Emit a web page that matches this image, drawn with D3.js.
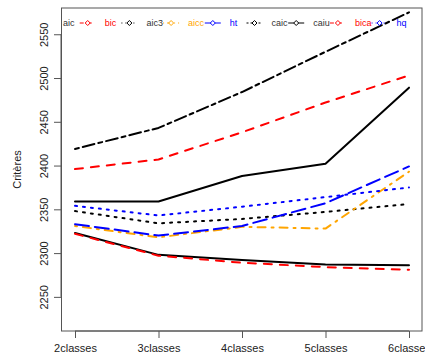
<!DOCTYPE html>
<html>
<head>
<meta charset="utf-8">
<script src="https://cdn.jsdelivr.net/npm/d3@7"></script>
<style>
body { margin: 0; background: white; }
svg { display: block; font-family: "Liberation Sans", Arial, sans-serif; }
</style>
</head>
<body>
<svg id="graphe" width="425" height="360"></svg>
<script>

//-------------------Données----------------------------------------
var classes = ["2classes", "3classes", "4classes", "5classes", "6classes"]
var yTicks = [2250, 2300, 2350, 2400, 2450, 2500, 2550]

var aic  = [2323, 2298, 2292, 2287, 2286]
var bic  = [2396, 2407, 2438, 2472, 2503]
var aic3 = [2348, 2334, 2339, 2347, 2356]
var aicc = [2331, 2318, 2330, 2328, 2393]
var ht   = [2333, 2320, 2331, 2357, 2399]
var caic = [2419, 2443, 2484, 2530, 2575]
var caiu = [2359, 2359, 2388, 2402, 2489]
var bica = [2322, 2297, 2289, 2284, 2281]
var hq   = [2354, 2343, 2353, 2364, 2375]

var noms = ["aic", "bic", "aic3", "aicc", "ht", "caic", "caiu", "bica", "hq"]
var series = [aic, bic, aic3, aicc, ht, caic, caiu, bica, hq]
var couleurs = ["black", "red", "black", "orange", "blue", "black", "black", "red", "blue"]
// lty R : solid, dashed, dotted, dotdash, longdash, twodash
var tirets = [[], [4,4], [1,3], [1,3,4,3], [7,3], [2,2,6,2], [], [4,4], [1,3]]

//-------------------Cadre----------------------------------------
var gauche = 61.5, droite = 422, haut = 8, bas = 331

var svg = d3.select("#graphe")

var x = d3.scalePoint().domain(classes).range([75, 409])
var y = d3.scaleLinear().domain([2211, 2580]).range([bas, haut])

function dash(t, lwd) {
    if (t.length == 0) return null
    return t.map(function (d) { return d * lwd }).join(",")
}

//-------------------Courbes----------------------------------------
for (var i = 0; i < series.length; i++) {
    var ligne = d3.line()
        .x(function (d, j) { return x(classes[j]) })
        .y(function (d) { return y(d) })

    svg.append("path")
        .attr("d", ligne(series[i]))
        .attr("fill", "none")
        .attr("stroke", couleurs[i])
        .attr("stroke-width", 2)
        .attr("stroke-linecap", "round")
        .attr("stroke-linejoin", "round")
        .attr("stroke-dasharray", dash(tirets[i], 2))
}

//-------------------Boite----------------------------------------
svg.append("rect")
    .attr("x", gauche).attr("y", haut)
    .attr("width", droite - gauche).attr("height", bas - haut)
    .attr("fill", "none").attr("stroke", "#555").attr("stroke-width", 1)

//-------------------Axes----------------------------------------
var axeX = d3.axisBottom(x).tickSize(7).tickPadding(6)
var gx = svg.append("g").attr("transform", "translate(0," + bas + ")").call(axeX)
gx.select(".domain").attr("d", "M75,0H409").attr("stroke", "#555")
gx.selectAll(".tick line").attr("stroke", "#555")
gx.selectAll("text").attr("font-size", 11).attr("fill", "#222")
    .attr("font-family", "Liberation Sans, Arial, sans-serif")

var axeY = d3.axisLeft(y).tickValues(yTicks).tickSize(7).tickPadding(0).tickFormat(d3.format("d"))
var gy = svg.append("g").attr("transform", "translate(" + (gauche - 0.5) + ",0)").call(axeY)
gy.select(".domain").attr("d", "M0," + y(2250) + "V" + y(2550)).attr("stroke", "#555")
gy.selectAll(".tick line").attr("stroke", "#555")
gy.selectAll("text")
    .attr("font-size", 11).attr("fill", "#222")
    .attr("font-family", "Liberation Sans, Arial, sans-serif")
    .attr("text-anchor", "middle")
    .attr("dy", null)
    .attr("x", null)
    .attr("transform", "translate(-17,0) rotate(-90)")
    .attr("dominant-baseline", "central")

svg.append("text")
    .attr("transform", "translate(17," + ((haut + bas) / 2) + ") rotate(-90)")
    .attr("text-anchor", "middle")
    .attr("dominant-baseline", "central")
    .attr("font-size", 11)
    .attr("fill", "#222")
    .text("Critères")

//-------------------Légende----------------------------------------
var pas = 41.7, x0 = 63, yl = 23
for (var i = 0; i < noms.length; i++) {
    var tx = x0 + i * pas
    if (i > 0) {
        svg.append("line")
            .attr("x1", tx - 25).attr("x2", tx - 9)
            .attr("y1", yl).attr("y2", yl)
            .attr("stroke", couleurs[i]).attr("stroke-width", 1)
            .attr("stroke-dasharray", dash(tirets[i], 1))
        svg.append("path")
            .attr("d", "M" + (tx - 17) + "," + (yl - 2.5) + "l2.5,2.5l-2.5,2.5l-2.5,-2.5z")
            .attr("fill", "white").attr("stroke", couleurs[i]).attr("stroke-width", 1)
    }
    svg.append("text")
        .attr("x", tx).attr("y", yl)
        .attr("dominant-baseline", "central")
        .attr("font-size", 9)
        .attr("fill", couleurs[i] == "black" ? "#333" : couleurs[i])
        .text(noms[i])
}

</script>
</body>
</html>
